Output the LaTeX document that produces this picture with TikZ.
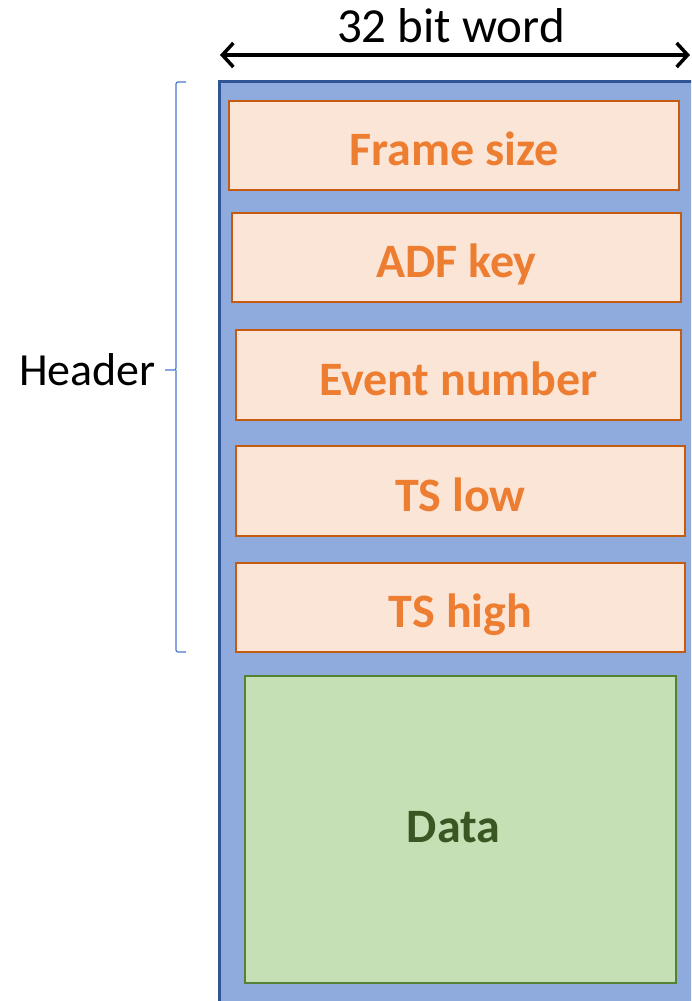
\documentclass[tikz,border=0pt]{standalone}
\usepackage{fontspec}
\setmainfont{Carlito}
\usetikzlibrary{arrows.meta}
\definecolor{wordfill}{HTML}{8FAADC}
\definecolor{worddraw}{HTML}{2F5597}
\definecolor{hdrfill}{HTML}{FBE5D6}
\definecolor{hdrdraw}{HTML}{C55A11}
\definecolor{hdrtext}{HTML}{ED7D31}
\definecolor{datafill}{HTML}{C5E0B4}
\definecolor{datadraw}{HTML}{548235}
\definecolor{datatext}{HTML}{385723}
\definecolor{bracecol}{HTML}{4A78CC}
\tikzset{
  field/.style={draw=hdrdraw, fill=hdrfill, line width=2.5pt, inner sep=0pt,
    text=hdrtext, text height=40pt, text depth=0pt,
    font=\fontsize{48}{52}\selectfont\bfseries},
  datablock/.style={draw=datadraw, fill=datafill, line width=2.5pt, inner sep=0pt,
    text=datatext, text height=30pt, text depth=5pt,
    font=\fontsize{48}{52}\selectfont\bfseries},
  lbl/.style={inner sep=0pt},
}
\begin{document}
\begin{tikzpicture}[x=1pt,y=-1pt]
\useasboundingbox (0,0) rectangle (691,1001);
\begin{scope}
\clip (0,0) rectangle (691,1001);
% the 32-bit word column, running off the page edge
\draw[draw=worddraw, fill=wordfill, line width=3pt] (219.5,81.5) rectangle (720,1030);
\end{scope}

% header fields
\node[field, minimum width=450pt, minimum height=89pt] (fs) at (454,145.5) {Frame size};
\node[field, minimum width=449pt, minimum height=89pt] (adf) at (456.5,257.5) {ADF key};
\node[field, minimum width=445pt, minimum height=90pt] (ev) at (458.5,375) {Event number};
\node[field, minimum width=449pt, minimum height=90pt] (tsl) at (460.5,491) {TS low};
\node[field, minimum width=449pt, minimum height=89pt] (tsh) at (460.5,607.5) {TS high};

% payload
\node[datablock, minimum width=431pt, minimum height=307pt] (data) at (460.5,829.5) {\hspace*{-14pt}Data};

% word width arrow
\coordinate (wl) at (220,55);
\coordinate (wr) at (690,55);
\draw[line width=3.5pt, {Straight Barb[length=11pt,width=24pt]}-{Straight Barb[length=11pt,width=24pt]}] (wl) -- (wr);
\node[lbl, anchor=base, font=\fontsize{49}{53}\selectfont] (width) at (451,42) {32 bit word};

% header brace
\coordinate (btop) at (186,82);
\coordinate (bbot) at (186,652);
\coordinate (btip) at (165,370);
\draw[bracecol, line width=1.2pt, rounded corners=2pt]
  (btop) -- (176,82) -- (176,370) -- (btip)
  (176,370) -- (176,652) -- (bbot);
\node[lbl, anchor=east, font=\fontsize{46}{50}\selectfont] (hdr) at (156,370) {Header};
\end{tikzpicture}
\end{document}
